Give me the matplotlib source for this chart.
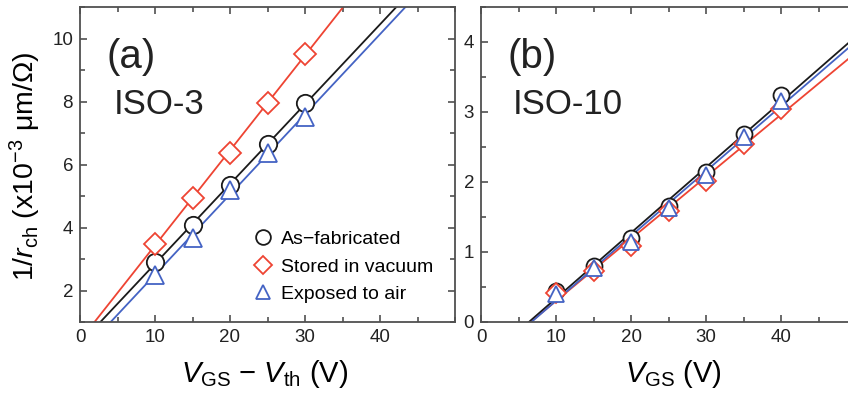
import numpy as np
import matplotlib
matplotlib.use("Agg")
import matplotlib.pyplot as plt
from matplotlib.ticker import MultipleLocator

plt.rcParams['font.family'] = ['Liberation Sans', 'DejaVu Sans']
plt.rcParams['mathtext.fontset'] = 'custom'
plt.rcParams['mathtext.rm'] = 'Liberation Sans'
plt.rcParams['mathtext.it'] = 'Liberation Sans:italic'
plt.rcParams['mathtext.bf'] = 'Liberation Sans:bold'

# ---- data ----
# Panel (a): ISO-3, x = V_GS - V_th (V)
xa = [10, 15, 20, 25, 30]
a_asfab = [2.90, 4.07, 5.34, 6.64, 7.95]
a_vacuum = [3.47, 4.94, 6.37, 7.96, 9.50]
a_air = [2.50, 3.67, 5.20, 6.35, 7.52]

# Panel (b): ISO-10, x = V_GS (V)
xb = [10, 15, 20, 25, 30, 35, 40]
b_asfab = [0.45, 0.80, 1.20, 1.66, 2.15, 2.69, 3.24]
b_vacuum = [0.42, 0.73, 1.08, 1.59, 2.02, 2.54, 3.04]
b_air = [0.40, 0.77, 1.15, 1.63, 2.10, 2.64, 3.16]

labels = ["As\u2212fabricated", "Stored in vacuum", "Exposed to air"]
colors = ["#1a1a1a", "#ee4433", "#4463c4"]
markers = ["o", "D", "^"]
msizes_a = [12.5, 11, 12.5]
msizes_b = [11.5, 10, 11.5]

W, H = 848, 403
fig = plt.figure(figsize=(W / 100, H / 100), dpi=100)
spine_c = "#505050"


def px_axes(left, top, right, bottom):
    return fig.add_axes([left / W, 1 - bottom / H, (right - left) / W, (bottom - top) / H])


axa = px_axes(80, 7, 455, 322)
axb = px_axes(481, 7, 856, 322)


def style(ax):
    for s in ax.spines.values():
        s.set_color(spine_c)
        s.set_linewidth(1.3)
    ax.tick_params(which='both', direction='in', top=True, right=True, color=spine_c,
                   labelsize=13.5, labelcolor='#222222')
    ax.tick_params(which='major', length=5, width=1.2, pad=5)
    ax.tick_params(which='minor', length=3.5, width=1.2)


def draw(ax, x, series, msizes, xlim, ylim):
    xs = np.array(x, dtype=float)
    xx = np.linspace(xlim[0], xlim[1], 200)
    handles = []
    order = [1, 0, 2]
    for i in order:
        y = np.array(series[i])
        p = np.polyfit(xs, y, 1)
        ax.plot(xx, np.polyval(p, xx), color=colors[i], lw=1.3, zorder=2)
    for i in order:
        h, = ax.plot(xs, series[i], ls='none', marker=markers[i], ms=msizes[i],
                     mfc='white', mec=colors[i], mew=1.3, zorder=3 + i, label=labels[i])
        handles.append(h)
    ax.set_xlim(*xlim)
    ax.set_ylim(*ylim)
    return {h.get_label(): h for h in handles}


ha = draw(axa, xa, [a_asfab, a_vacuum, a_air], msizes_a, (0, 50), (1, 11))
style(axa)
axa.xaxis.set_major_locator(MultipleLocator(10))
axa.xaxis.set_minor_locator(MultipleLocator(5))
axa.yaxis.set_major_locator(MultipleLocator(2))
axa.yaxis.set_minor_locator(MultipleLocator(1))
axa.set_xticks([0, 10, 20, 30, 40])
axa.set_xlim(0, 50)
axa.set_xlabel(r'$V_{\rm GS}$ $-$ $V_{\rm th}$ (V)', fontsize=21)
axa.xaxis.set_label_coords((265 - 80) / 375, -0.115)
axa.set_ylabel(r'1/$r_{\rm ch}$ (x10$^{-3}$ μm/Ω)', fontsize=20.5)
axa.yaxis.set_label_coords((43 - 80) / 375, 0.495)
axa.text(0.07, 0.84, '(a)', transform=axa.transAxes, fontsize=29, va='center', ha='left', color='#222222')
axa.text(0.09, 0.69, 'ISO-3', transform=axa.transAxes, fontsize=25, va='center', ha='left', color='#222222')
leg = axa.legend([ha[l] for l in labels], labels, loc='upper left', bbox_to_anchor=(0.462, 0.29),
                 frameon=False, fontsize=14, handlelength=1.0, handletextpad=0.45,
                 labelspacing=0.5, borderpad=0, borderaxespad=0, numpoints=1, markerscale=0.85)

hb = draw(axb, xb, [b_asfab, b_vacuum, b_air], msizes_b, (0, 50), (0, 4.5))
style(axb)
axb.xaxis.set_major_locator(MultipleLocator(10))
axb.xaxis.set_minor_locator(MultipleLocator(5))
axb.yaxis.set_major_locator(MultipleLocator(1))
axb.yaxis.set_minor_locator(MultipleLocator(0.5))
axb.set_xticks([0, 10, 20, 30, 40])
axb.set_xlim(0, 50)
axb.set_xlabel(r'$V_{\rm GS}$ (V)', fontsize=21)
axb.xaxis.set_label_coords((673 - 481) / 375, -0.115)
axb.text(0.07, 0.84, '(b)', transform=axb.transAxes, fontsize=29, va='center', ha='left', color='#222222')
axb.text(0.085, 0.69, 'ISO-10', transform=axb.transAxes, fontsize=25, va='center', ha='left', color='#222222')

fig.savefig('out.png', dpi=100)
